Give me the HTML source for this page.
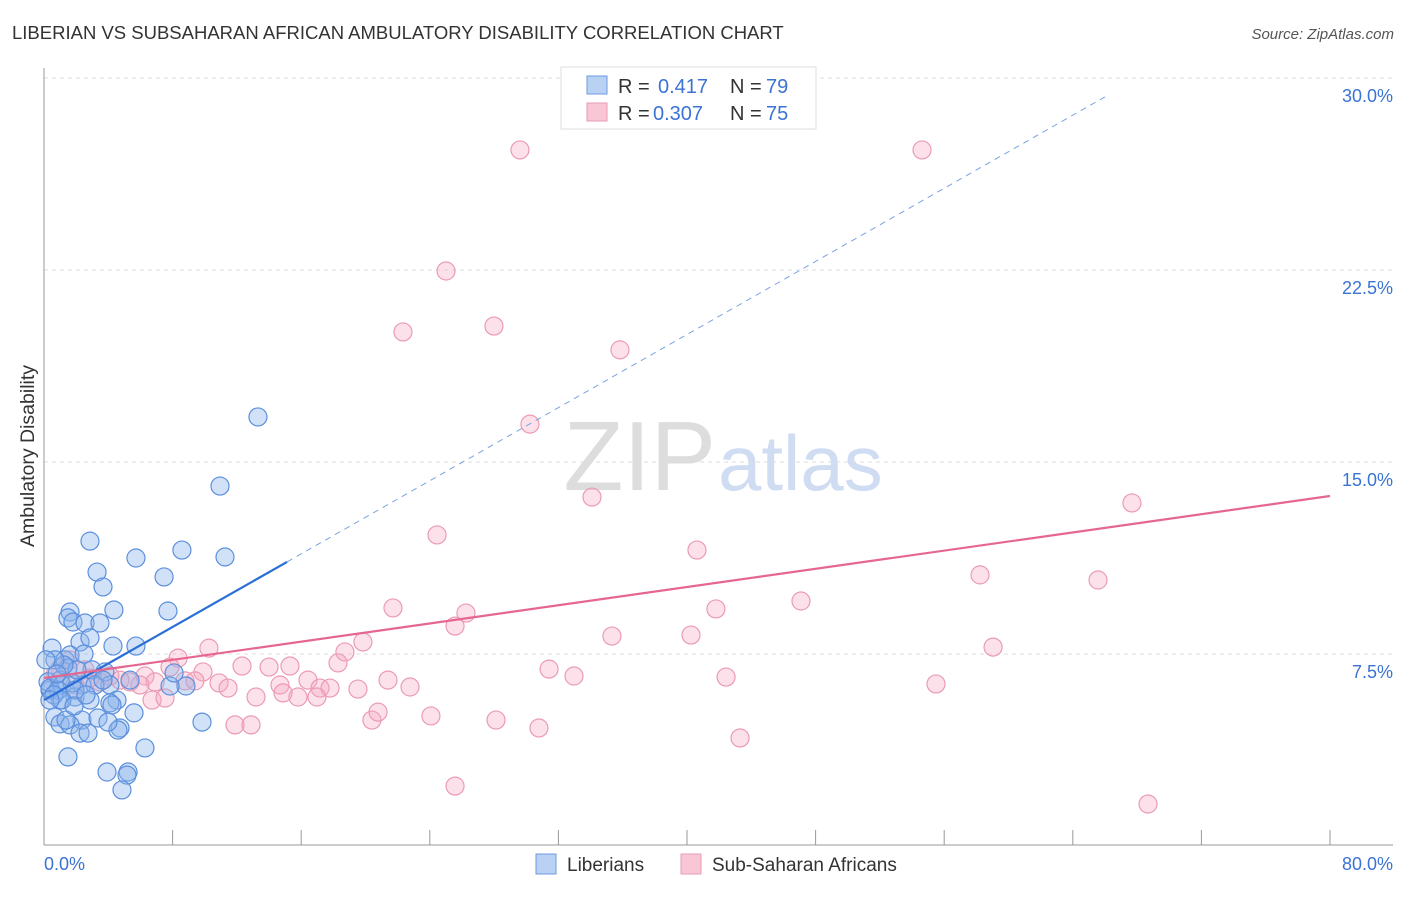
<!DOCTYPE html>
<html><head><meta charset="utf-8"><style>
body{margin:0;background:#fff;font-family:"Liberation Sans",sans-serif;}
svg text{font-family:"Liberation Sans",sans-serif;}
</style></head><body>
<svg id="c" width="1406" height="892">
<text x="12" y="39" font-size="18.5" fill="#333">LIBERIAN VS SUBSAHARAN AFRICAN AMBULATORY DISABILITY CORRELATION CHART</text>
<text x="1394" y="39" font-size="15" fill="#555" font-style="italic" text-anchor="end">Source: ZipAtlas.com</text>
<text x="716" y="490" font-size="98" fill="#ddd" text-anchor="end" font-family="Liberation Serif">ZIP</text>
<text x="718" y="490" font-size="78" fill="#cfdcf2">atlas</text>
<text transform="translate(34,456) rotate(-90)" font-size="19.5" fill="#333" text-anchor="middle">Ambulatory Disability</text>
<g id="grid"></g><g id="pts"></g><g id="trend"></g>
<g>
<rect x="561" y="67" width="255" height="62" fill="#fff" stroke="#ddd"/>
<rect x="587" y="76" width="20" height="18" fill="#b9d1f3" stroke="#6c9ae0"/>
<rect x="587" y="103" width="20" height="18" fill="#f8c6d5" stroke="#eb9bb4"/>
<text x="618" y="93" font-size="20" fill="#333">R =</text>
<text x="658" y="93" font-size="20" fill="#3b73d4">0.417</text>
<text x="730" y="93" font-size="20" fill="#333">N =</text>
<text x="766" y="93" font-size="20" fill="#3b73d4">79</text>
<text x="618" y="120" font-size="20" fill="#333">R =</text>
<text x="653" y="120" font-size="20" fill="#3b73d4">0.307</text>
<text x="730" y="120" font-size="20" fill="#333">N =</text>
<text x="766" y="120" font-size="20" fill="#3b73d4">75</text>
</g>
<g>
<rect x="536" y="854" width="20" height="20" fill="#b9d1f3" stroke="#6c9ae0"/>
<text x="567" y="871" font-size="19" fill="#333">Liberians</text>
<rect x="681" y="854" width="20" height="20" fill="#f8c6d5" stroke="#eb9bb4"/>
<text x="712" y="871" font-size="19" fill="#333">Sub-Saharan Africans</text>
</g>
</svg>
<script>
const yTicks=[7.5,15,22.5,30];
const yTickLabels=["7.5%","15.0%","22.5%","30.0%"];
const xTickLabels=["0.0%","80.0%"];
const blueX=[0.5,0.37,0.68,1.0,1.49,1.62,1.49,1.8,2.86,3.3,3.67,5.72,7.47,8.58,11.26,13.31,10.95,4.35,2.55,3.48,4.29,5.72,2.24,2.86,1.31,1.62,1.49,2.99,3.79,4.1,2.36,1.93,1.0,4.54,4.1,5.6,2.36,1.62,2.24,2.74,4.73,4.6,6.28,3.92,5.23,5.16,4.85,7.71,8.83,7.84,8.09,9.83,1.0,0.25,0.37,1.12,1.74,2.05,3.17,3.67,0.87,0.62,1.37,3.36,4.23,2.49,1.24,1.93,2.86,3.98,0.68,1.12,1.87,5.35,0.37,2.61,0.81,0.12];
const blueY=[7.73,6.09,5.04,4.77,3.48,9.14,8.91,8.75,11.91,10.7,10.12,11.25,10.51,11.56,11.29,16.76,14.06,9.22,8.71,8.71,7.81,7.81,7.97,8.13,7.27,7.46,6.95,6.88,6.8,6.29,6.29,5.82,5.7,5.7,5.59,5.2,4.92,4.73,4.41,4.41,4.61,4.53,3.83,2.89,2.89,2.77,2.19,9.18,6.25,6.25,6.76,4.84,6.48,6.41,6.17,6.29,6.37,6.88,6.29,6.48,6.09,5.9,4.92,5.0,5.51,7.5,7.07,6.09,5.7,4.84,7.27,5.7,5.47,6.48,5.7,5.9,6.72,7.27];
const pinkX=[29.61,54.62,25.01,22.33,27.99,35.83,30.23,34.09,67.68,24.45,40.62,58.23,65.57,21.71,26.25,41.8,47.09,25.57,35.33,40.25,19.84,59.04,10.26,18.72,8.34,31.42,32.97,42.43,55.49,18.29,12.32,14.0,15.3,7.84,9.89,6.28,5.35,6.91,8.77,9.39,10.89,11.45,14.68,16.42,17.17,17.79,19.53,21.4,22.77,13.19,14.87,15.8,16.98,6.72,7.53,11.88,12.88,20.4,20.78,24.07,28.12,30.79,43.3,25.57,68.68,4.73,3.48,2.55,1.0,1.62,2.86,4.1,1.93,0.68,5.97];
const pinkY=[27.19,27.19,22.46,20.08,20.31,19.38,16.48,13.63,13.4,12.15,11.56,10.59,10.39,9.3,9.1,9.26,9.57,8.59,8.2,8.24,7.97,7.77,7.73,7.58,7.34,6.91,6.64,6.6,6.33,7.15,7.03,6.99,7.03,6.99,6.8,6.64,6.41,6.41,6.45,6.45,6.37,6.17,6.29,6.48,6.17,6.17,6.13,6.48,6.21,5.82,5.98,5.82,5.82,5.7,5.78,4.73,4.73,4.92,5.23,5.08,4.92,4.61,4.22,2.34,1.64,6.48,6.41,6.88,6.95,7.27,6.56,6.64,6.29,6.68,6.29];
const blueTrend=[5.7,0.357];
const pinkTrend=[6.56,0.0889];
const X0=44,X1=1330,Y0=846;
const sx=v=>X0+(X1-X0)*v/80;
const sy=v=>Y0-v*25.6;
const NS="http://www.w3.org/2000/svg";
function mk(tag,attrs,parent){const e=document.createElementNS(NS,tag);for(const k in attrs)e.setAttribute(k,attrs[k]);parent.appendChild(e);return e;}
const grid=document.getElementById('grid');
yTicks.forEach((t,i)=>{
  const l=mk('line',{x1:44,x2:1393,y1:sy(t),y2:sy(t),stroke:'#ddd','stroke-dasharray':'4,4'},grid);
  
  
  const tx=mk('text',{x:1393,y:sy(t)+24,'font-size':18,fill:'#3b73d4','text-anchor':'end'},grid);
  tx.textContent=yTickLabels[i];
  
  
});
const ax=mk('line',{x1:44,x2:44,y1:68,y2:845,stroke:'#999'},grid);


const bx=mk('line',{x1:44,x2:1393,y1:845,y2:845,stroke:'#999'},grid);


for(let v=8;v<=80;v+=8){
  const t=mk('line',{x1:sx(v),x2:sx(v),y1:830,y2:845,stroke:'#999'},grid);
  
  
}
[[0,'start',44],[80,'end',1393]].forEach((d,i)=>{
  const tx=mk('text',{x:d[2],y:870,'font-size':18,fill:'#3b73d4','text-anchor':d[1]},grid);
  tx.textContent=xTickLabels[i];
  
  
});
const pts=document.getElementById('pts');
function dots(xs,ys,fill,stroke,name){
  xs.forEach((x,i)=>{
    const c=mk('circle',{cx:sx(x),cy:sy(ys[i]),r:9,fill:fill,stroke:stroke,'stroke-width':1.2},pts);
    
    
  });
}
dots(pinkX,pinkY,'rgba(245,170,195,0.35)','#eb9bb4','subsaharan-point');
dots(blueX,blueY,'rgba(140,180,235,0.4)','#5b8fde','liberian-point');
const tr=document.getElementById('trend');
const bf=x=>blueTrend[0]+blueTrend[1]*x;
const pf=x=>pinkTrend[0]+pinkTrend[1]*x;
const b1=mk('line',{x1:sx(0),y1:sy(bf(0)),x2:sx(15.12),y2:sy(bf(15.12)),stroke:'#2a6fd6','stroke-width':2.2},tr);


const b2=mk('line',{x1:sx(15.12),y1:sy(bf(15.12)),x2:sx(66),y2:sy(bf(66)),stroke:'#7aa3e0','stroke-width':1,'stroke-dasharray':'6,5'},tr);


const p1=mk('line',{x1:sx(0),y1:sy(pf(0)),x2:sx(80),y2:sy(pf(80)),stroke:'#e5668f','stroke-width':2.2},tr);


</script>
</body></html>
